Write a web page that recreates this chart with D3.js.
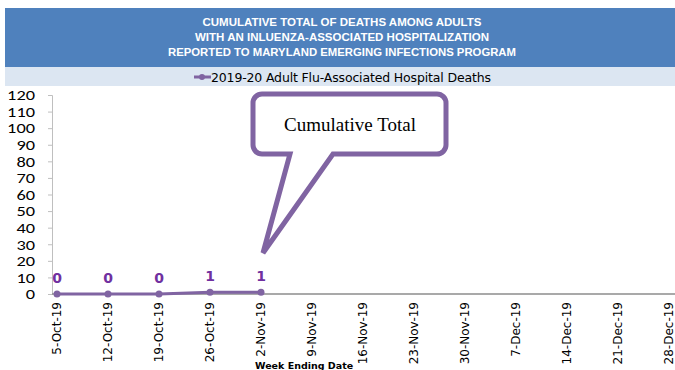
<!DOCTYPE html>
<html lang="en">
<head>
    <meta charset="UTF-8">
    <title>Cumulative Flu Deaths</title>
    <script src="https://d3js.org/d3.v7.min.js"></script>
    <style>
        body { margin: 0; background: #fff; font-family: Calibri, "Liberation Sans", sans-serif; }
        svg { display: block; }
    </style>
</head>
<body>
    <svg width="675" height="370"></svg>
    <script>
        // chart data
        const weeks = ["5-Oct-19", "12-Oct-19", "19-Oct-19", "26-Oct-19", "2-Nov-19", "9-Nov-19",
            "16-Nov-19", "23-Nov-19", "30-Nov-19", "7-Dec-19", "14-Dec-19", "21-Dec-19", "28-Dec-19"];
        const deaths = [0, 0, 0, 1, 1];
        const yTicks = [0, 10, 20, 30, 40, 50, 60, 70, 80, 90, 100, 110, 120];
        const titleLines = ["CUMULATIVE TOTAL OF DEATHS AMONG ADULTS",
            "WITH AN INLUENZA-ASSOCIATED HOSPITALIZATION",
            "REPORTED TO MARYLAND EMERGING INFECTIONS PROGRAM"];
        const titleWidths = [279, 294, 348];
        const seriesName = "2019-20 Adult Flu-Associated Hospital Deaths";

        const svg = d3.select("svg");
        const lineColor = "#8064a2";
        const labelColor = "#7030a0";

        // title band
        svg.append("rect").attr("x", 5).attr("y", 8).attr("width", 670).attr("height", 59)
            .attr("fill", "#4f81bd");
        svg.selectAll(".title").data(titleLines).enter().append("text")
            .attr("x", 342).attr("y", (d, i) => 26 + i * 15)
            .attr("text-anchor", "middle")
            .attr("fill", "#fff").attr("font-weight", "bold").attr("font-size", "11px")
            .attr("font-family", "'Liberation Sans', Arial, sans-serif")
            .attr("textLength", (d, i) => titleWidths[i])
            .attr("lengthAdjust", "spacingAndGlyphs")
            .text(d => d);

        // legend band
        svg.append("rect").attr("x", 5).attr("y", 67).attr("width", 670).attr("height", 19)
            .attr("fill", "#dce6f2");
        svg.append("line").attr("x1", 194).attr("x2", 211).attr("y1", 77).attr("y2", 77)
            .attr("stroke", lineColor).attr("stroke-width", 3);
        svg.append("circle").attr("cx", 202).attr("cy", 77).attr("r", 3).attr("fill", lineColor);
        svg.append("text").attr("x", 211).attr("y", 81.5)
            .attr("font-size", "12.5px").attr("fill", "#000")
            .attr("font-family", "Verdana, 'DejaVu Sans', sans-serif")
            .attr("textLength", 280)
            .text(seriesName);

        // scales
        const x = d3.scalePoint().domain(weeks).range([57, 669]);
        const y = d3.scaleLinear().domain([0, 120]).range([294, 95]);

        // y axis
        const yAxis = svg.append("g").attr("transform", "translate(52,0)")
            .call(d3.axisLeft(y).tickValues(yTicks).tickSize(4).tickPadding(13));
        yAxis.select(".domain").attr("stroke", "#bfbfbf");
        yAxis.selectAll(".tick line").attr("stroke", "#bfbfbf");
        yAxis.selectAll("text").attr("font-size", "15px").attr("fill", "#000")
            .attr("font-family", "Calibri, 'Liberation Sans', sans-serif")
            .attr("textLength", d => String(d).length * 9.3)
            .attr("lengthAdjust", "spacingAndGlyphs");

        // x axis
        svg.append("line").attr("x1", 52).attr("x2", 675).attr("y1", y(0)).attr("y2", y(0))
            .attr("stroke", "#8c8c8c").attr("stroke-width", 1.5);
        svg.selectAll(".xlab").data(weeks).enter().append("text")
            .attr("transform", d => `translate(${x(d) + 4},302) rotate(-90)`)
            .attr("text-anchor", "end")
            .attr("font-size", "12px")
            .attr("font-family", "Verdana, 'DejaVu Sans', sans-serif")
            .text(d => d);
        svg.append("text").attr("x", 255).attr("y", 369)
            .attr("font-size", "9.5px").attr("font-weight", "bold")
            .attr("font-family", "Verdana, 'DejaVu Sans', sans-serif")
            .text("Week Ending Date");

        // series line
        const pts = deaths.map((v, i) => ({ w: weeks[i], v: v }));
        svg.append("path").datum(pts)
            .attr("fill", "none").attr("stroke", lineColor).attr("stroke-width", 3)
            .attr("d", d3.line().x(d => x(d.w)).y(d => y(d.v)));
        svg.selectAll(".pt").data(pts).enter().append("circle")
            .attr("cx", d => x(d.w)).attr("cy", d => y(d.v)).attr("r", 3.5)
            .attr("fill", lineColor);
        svg.selectAll(".dl").data(pts).enter().append("text")
            .attr("x", d => x(d.w)).attr("y", d => y(d.v) - 11)
            .attr("text-anchor", "middle")
            .attr("font-size", "14px").attr("font-weight", "bold")
            .attr("fill", labelColor)
            .attr("font-family", "Verdana, 'DejaVu Sans', sans-serif")
            .text(d => d.v);

        // callout
        const tipX = x(weeks[4]) + 2, tipY = 253;
        const bx = 253, by = 94, bw = 193, bh = 60, r = 9;
        const callout = d3.path();
        callout.moveTo(bx + r, by);
        callout.lineTo(bx + bw - r, by);
        callout.arcTo(bx + bw, by, bx + bw, by + r, r);
        callout.lineTo(bx + bw, by + bh - r);
        callout.arcTo(bx + bw, by + bh, bx + bw - r, by + bh, r);
        callout.lineTo(333, by + bh);
        callout.lineTo(tipX, tipY);
        callout.lineTo(290, by + bh);
        callout.lineTo(bx + r, by + bh);
        callout.arcTo(bx, by + bh, bx, by + bh - r, r);
        callout.lineTo(bx, by + r);
        callout.arcTo(bx, by, bx + r, by, r);
        callout.closePath();
        svg.append("path").attr("d", callout.toString())
            .attr("fill", "#fff").attr("stroke", lineColor).attr("stroke-width", 5)
            .attr("stroke-linejoin", "miter");
        svg.append("text").attr("x", 350).attr("y", 131)
            .attr("text-anchor", "middle")
            .attr("font-family", "'Times New Roman', 'Liberation Serif', serif")
            .attr("font-size", "19px")
            .text("Cumulative Total");
    </script>
</body>
</html>
